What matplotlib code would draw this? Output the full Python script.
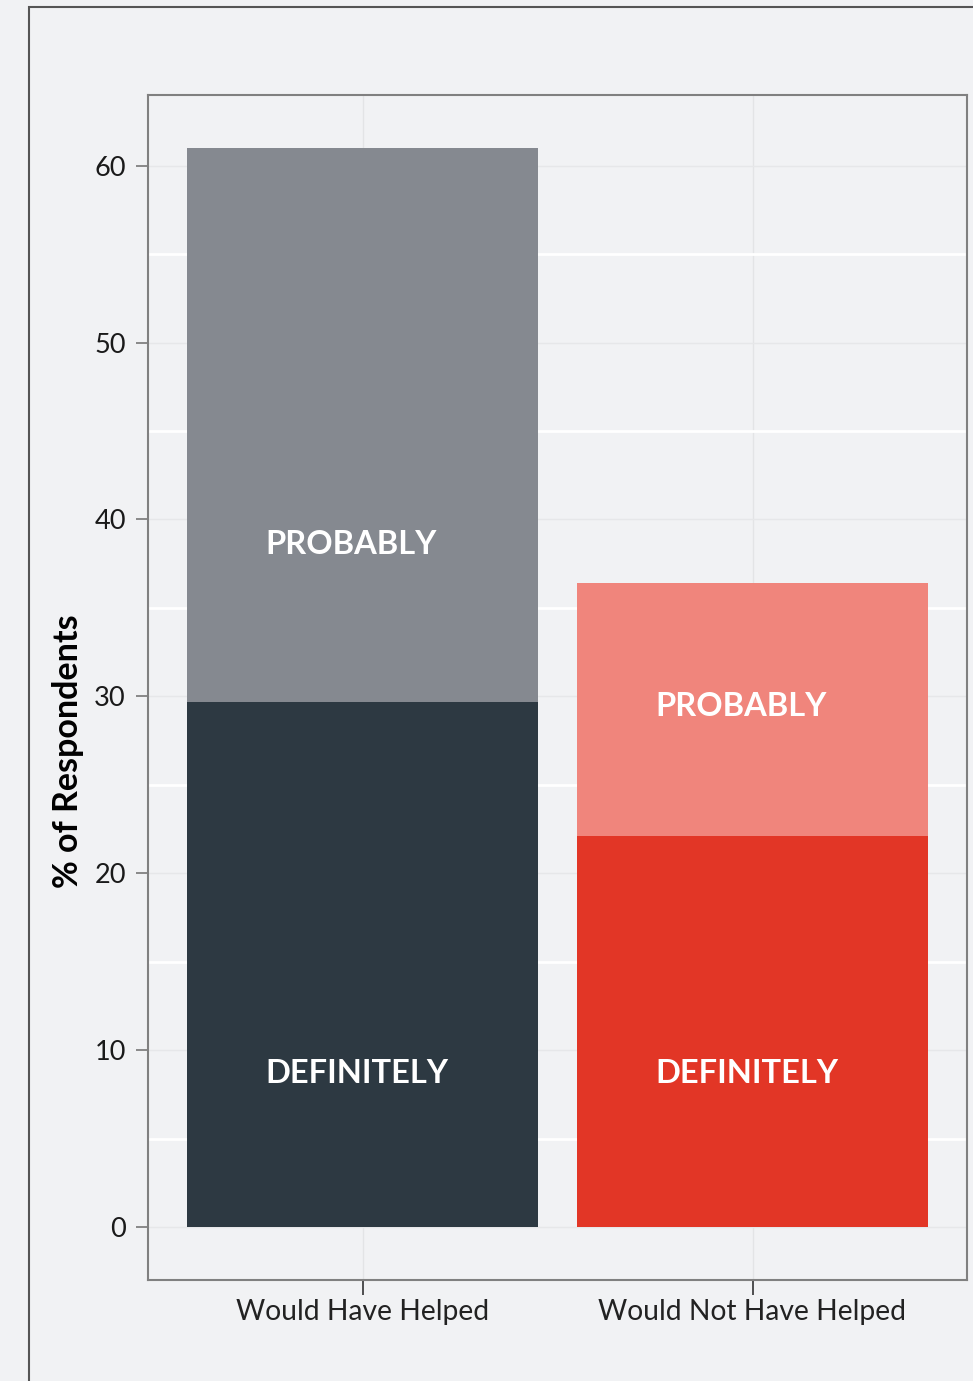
import matplotlib
matplotlib.use("Agg")
import matplotlib.pyplot as plt
from matplotlib.patches import Rectangle

# data
categories = ["Would Have Helped", "Would Not Have Helped"]
definitely = [29.7, 22.1]
probably = [31.3, 14.3]

bg = "#F1F2F4"
dark_colors = ["#2D3942", "#E23626"]
light_colors = ["#858990", "#F0857C"]

plt.rcParams["font.family"] = ["Lato", "DejaVu Sans"]

fig = plt.figure(figsize=(9.73, 13.81), dpi=100, facecolor=bg)
ax = fig.add_axes([148 / 973, 1 - 1280 / 1381, (967 - 148) / 973, (1280 - 95) / 1381])
ax.set_facecolor(bg)

x = range(len(categories))
ax.bar(x, definitely, width=0.9, color=dark_colors, zorder=3)
ax.bar(x, probably, bottom=definitely, width=0.9, color=light_colors, zorder=3)

# in-bar labels (left aligned, as in the original)
prob_label_y = [38.6, 29.4]
for i in x:
    ax.text(i - 0.248, 8.7, "DEFINITELY", color="white", fontsize=23.5,
            fontweight="bold", ha="left", va="center", zorder=4)
    ax.text(i - 0.248, prob_label_y[i], "PROBABLY", color="white", fontsize=23.5,
            fontweight="bold", ha="left", va="center", zorder=4)

ax.set_xlim(-0.55, 1.55)
ax.set_ylim(-3, 64)
ax.set_xticks(list(x))
ax.set_xticklabels(categories, fontsize=20.3, color="#222222")
ax.set_yticks(range(0, 61, 10))
ax.set_yticks(range(5, 61, 10), minor=True)
ax.tick_params(axis="y", which="major", labelsize=19.5, labelcolor="#1A1A1A",
               length=9, width=1.2, color="#777777", pad=7)
ax.tick_params(axis="y", which="minor", length=0)
ax.tick_params(axis="x", length=11, width=1.2, color="#333333", pad=3)

ax.grid(which="major", axis="y", color="#E6E7E9", linewidth=1, zorder=0)
ax.grid(which="minor", axis="y", color="white", linewidth=2, zorder=0)
ax.grid(which="major", axis="x", color="#E3E4E6", linewidth=1, zorder=0)

for s in ax.spines.values():
    s.set_color("#808080")
    s.set_linewidth(1.5)

ax.set_ylabel("% of Respondents", fontsize=24.5, fontweight="bold")
ax.yaxis.set_label_coords(-0.078, 0.446)

# outer frame of the (cropped) figure
fig.patches.append(Rectangle((28.5 / 973, -0.05), 1.1, 1.05 - 6.5 / 1381,
                             transform=fig.transFigure, fill=False,
                             edgecolor="#555555", linewidth=1.5))

fig.savefig("out.png", dpi=100, facecolor=bg)
